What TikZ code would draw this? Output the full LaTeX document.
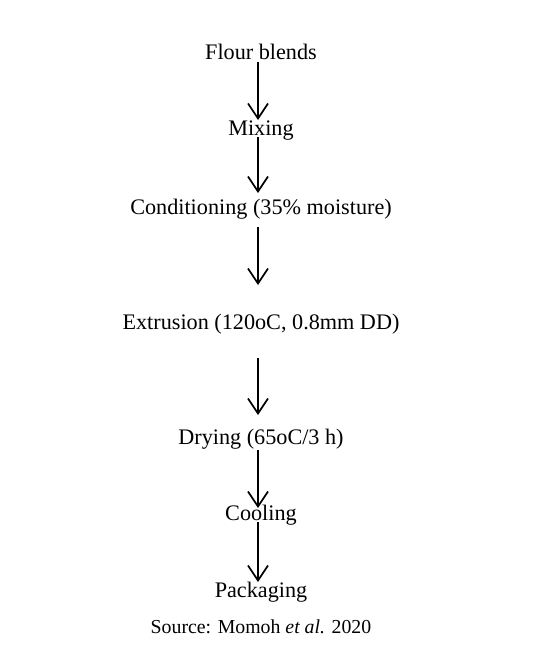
\documentclass[tikz,border=0pt]{standalone}
\usepackage{fontspec}
\setmainfont{Liberation Serif}
\usetikzlibrary{arrows.meta}
\begin{document}
\begin{tikzpicture}[x=1pt,y=-1pt,
  steptext/.style={anchor=base,inner sep=0pt,font=\fontsize{22.2}{26}\selectfont},
  srctext/.style={anchor=base,inner sep=0pt,font=\fontsize{19.8}{24}\selectfont},
  arr/.style={line width=1.7pt,-{Straight Barb[length=15pt,width=20pt,line width=1.7pt]}}]
\useasboundingbox[fill=white] (0,0) rectangle (535,651);
\coordinate (ax) at (258,0);
\node[steptext] (flour) at (261,59) {Flour blends};
\node[steptext] (mix) at (261,135) {Mixing};
\node[steptext] (cond) at (261,214) {Conditioning (35\% moisture)};
\node[steptext] (ext) at (261,329) {Extrusion (120oC, 0.8mm DD)};
\node[steptext] (dry) at (261,444) {Drying (65oC/3 h)};
\node[steptext] (cool) at (261,520) {Cooling};
\node[steptext] (pack) at (261,597) {Packaging};
\node[srctext] (src) at (261,633) {Source: Momoh \textit{et al.} 2020};
\draw[arr] ([yshift=-3pt]flour.base -| ax) -- ([yshift=15pt]mix.base -| ax);
\draw[arr] ([yshift=-2pt]mix.base -| ax) -- ([yshift=21pt]cond.base -| ax);
\draw[arr] ([yshift=-13pt]cond.base -| ax) -- ([yshift=44pt]ext.base -| ax);
\draw[arr] ([yshift=-29pt]ext.base -| ax) -- ([yshift=29pt]dry.base -| ax);
\draw[arr] ([yshift=-6pt]dry.base -| ax) -- ([yshift=12pt]cool.base -| ax);
\draw[arr] ([yshift=-2pt]cool.base -| ax) -- ([yshift=15pt]pack.base -| ax);
\end{tikzpicture}
\end{document}
